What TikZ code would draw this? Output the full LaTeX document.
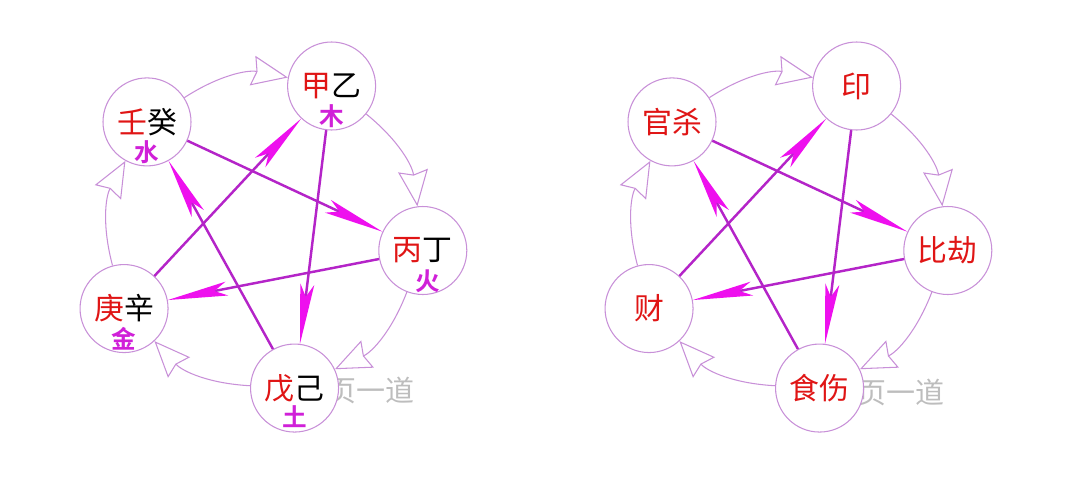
\documentclass[tikz,border=0pt]{standalone}
\usepackage{fontspec}
\usepackage{amsmath,tikz}
\usetikzlibrary{arrows.meta}
\newfontfamily\cjk{Noto Sans CJK SC}
\newfontfamily\cjkbold{Noto Sans CJK SC Bold}

\definecolor{ringline}{HTML}{C890D8}
\definecolor{starline}{HTML}{B424C8}
\definecolor{starhead}{HTML}{EE10EE}
\definecolor{stemred}{HTML}{E01515}
\definecolor{elemmag}{HTML}{D020D8}
\definecolor{markgray}{HTML}{BDBDBD}

\tikzset{
	stem/.style={circle, draw=ringline, line width=0.6pt, fill=white, minimum size=1.76cm, inner sep=0pt, font=\cjk\fontsize{17}{17}\selectfont},
	elem/.style={inner sep=0pt, text=elemmag, font=\cjkbold\fontsize{14}{14}\selectfont},
	shengarc/.style={draw=ringline, line width=0.6pt, bend left=22, -{Stealth[length=0.72cm, width=0.6cm, inset=0.08cm, fill=white]}},
	kearrow/.style={draw=starline, line width=1.4pt, -{Stealth[length=1.2cm, width=0.28cm, inset=0.25cm, color=starhead]}},
	wmark/.style={inner sep=0pt, text=markgray, font=\cjk\fontsize{16.5}{16.5}\selectfont}
}

\begin{document}
\begin{tikzpicture}

	\useasboundingbox (0,0) rectangle (21.6,9.8);

	% watermarks
	\node[wmark] (wmleft) at (7.42,2.00) {页一道};
	\node[wmark] (wmright) at (18.01,1.96) {页一道};

	% left: stems
	\node[stem] (jiayi) at (6.632,8.080) {\textcolor{stemred}{甲}乙};
	\node[stem] (bingding) at (8.456,4.790) {\textcolor{stemred}{丙}丁};
	\node[stem] (wuji) at (5.891,2.039) {\textcolor{stemred}{戊}己};
	\node[stem] (gengxin) at (2.481,3.629) {\textcolor{stemred}{庚}辛};
	\node[stem] (rengui) at (2.940,7.362) {\textcolor{stemred}{壬}癸};

	\node[elem] (mu) at ([yshift=-0.6cm]jiayi.center) {木};
	\node[elem] (huo) at ([xshift=0.1cm,yshift=-0.62cm]bingding.center) {火};
	\node[elem] (tu) at ([yshift=-0.58cm]wuji.center) {土};
	\node[elem] (jin) at ([yshift=-0.6cm]gengxin.center) {金};
	\node[elem] (shui) at ([yshift=-0.6cm]rengui.center) {水};

	% right: ten gods
	\node[stem, text=stemred] (yin) at (17.132,8.080) {印};
	\node[stem, text=stemred] (bijie) at (18.956,4.790) {比劫};
	\node[stem, text=stemred] (shishang) at (16.391,2.039) {食伤};
	\node[stem, text=stemred] (cai) at (12.981,3.629) {财};
	\node[stem, text=stemred] (guansha) at (13.440,7.362) {官杀};

	% outer ring
	\draw[shengarc] (rengui) to (jiayi);
	\draw[shengarc] (jiayi) to (bingding);
	\draw[shengarc] (bingding) to (wuji);
	\draw[shengarc] (wuji) to (gengxin);
	\draw[shengarc] (gengxin) to (rengui);

	\draw[shengarc] (guansha) to (yin);
	\draw[shengarc] (yin) to (bijie);
	\draw[shengarc] (bijie) to (shishang);
	\draw[shengarc] (shishang) to (cai);
	\draw[shengarc] (cai) to (guansha);

	% star
	\draw[kearrow] (jiayi) -- (wuji);
	\draw[kearrow] (bingding) -- (gengxin);
	\draw[kearrow] (wuji) -- (rengui);
	\draw[kearrow] (gengxin) -- (jiayi);
	\draw[kearrow] (rengui) -- (bingding);

	\draw[kearrow] (yin) -- (shishang);
	\draw[kearrow] (bijie) -- (cai);
	\draw[kearrow] (shishang) -- (guansha);
	\draw[kearrow] (cai) -- (yin);
	\draw[kearrow] (guansha) -- (bijie);

\end{tikzpicture}
\end{document}
